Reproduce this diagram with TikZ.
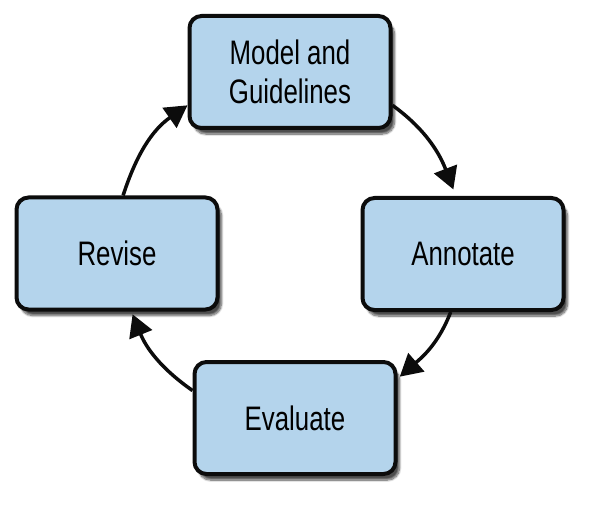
\documentclass[tikz,border=0pt]{standalone}
\usepackage{fontspec}
\setmainfont{Liberation Sans}[FakeStretch=0.76]
\usetikzlibrary{arrows.meta,shadows.blur}
\definecolor{boxfill}{RGB}{180,212,236}
\definecolor{boxline}{RGB}{12,12,12}
\tikzset{
  stagebox/.style={draw=boxline, fill=boxfill, line width=4pt, rounded corners=12pt,
    minimum width=201pt, minimum height=112pt, align=center, inner sep=0pt,
    font=\fontsize{34}{39}\selectfont,
    blur shadow={shadow xshift=4pt, shadow yshift=-6pt, shadow blur steps=10, shadow blur extra rounding=2pt, shadow opacity=70}},
  cyclearrow/.style={draw=boxline, line width=3.5pt, -{Triangle[length=22pt,width=24pt]}}
}
\begin{document}
\begin{tikzpicture}[x=1pt,y=1pt]
\useasboundingbox (0,0) rectangle (594,-505);
\node[stagebox] (m) at (290,-72) {Model and\\Guidelines};
\node[stagebox] (a) at (463,-254) {Annotate};
\node[stagebox] (e) at (295,-418) {Evaluate};
\node[stagebox] (r) at (117,-253.5) {Revise};
\draw[cyclearrow, shorten >=7pt] (m.-18) to[out=-36, in=111] (a.97);
\draw[cyclearrow, shorten >=3pt] (a.-102) to[out=-111, in=41] (e.21);
\draw[cyclearrow, shorten >=3pt] (e.165) to[out=145, in=-68] (r.-76);
\draw[cyclearrow] (r.84) to[out=72, in=215] (m.198);
\end{tikzpicture}
\end{document}
